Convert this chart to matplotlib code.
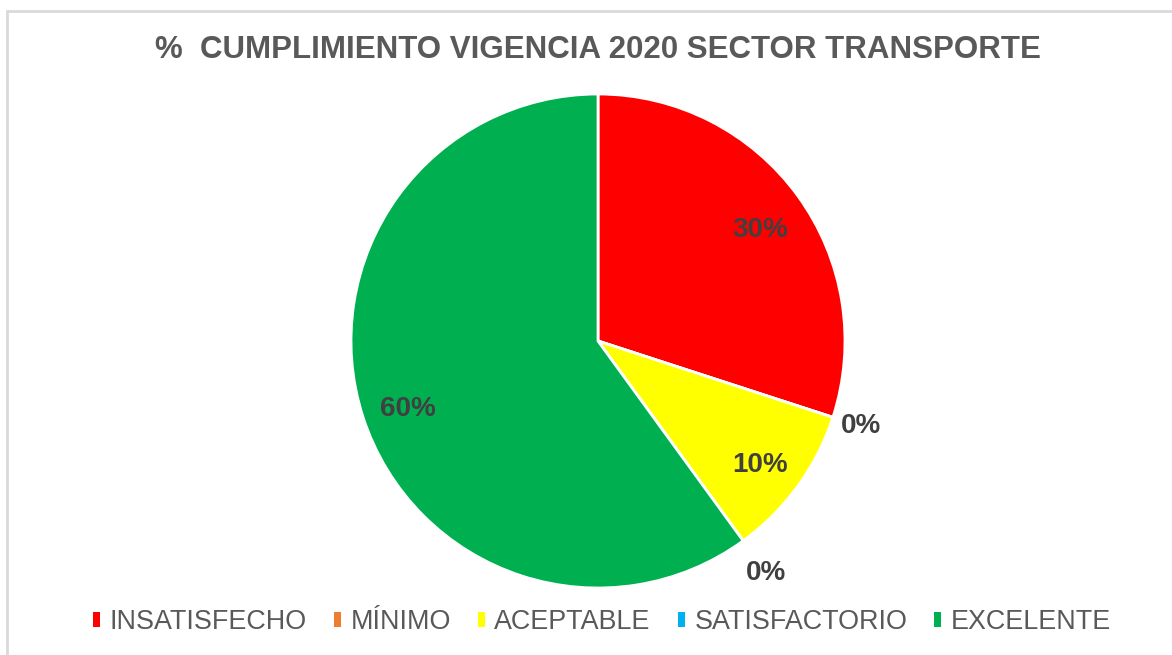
import numpy as np
import matplotlib.pyplot as plt
from matplotlib.patches import Rectangle

# data
categorias = ['INSATISFECHO', 'MÍNIMO', 'ACEPTABLE', 'SATISFACTORIO', 'EXCELENTE']
valores = [30, 0, 10, 0, 60]
colores = ['#FF0000', '#ED7D31', '#FFFF00', '#00B0F0', '#00B050']
titulo = '%  CUMPLIMIENTO VIGENCIA 2020 SECTOR TRANSPORTE'

W, H = 1172, 655
fig = plt.figure(figsize=(W / 100, H / 100), dpi=100)
fig.patch.set_facecolor('white')

# faint frame of the chart area
fig.add_artist(Rectangle((7 / W, -0.1), 1.2, 1.1 - 11 / H, transform=fig.transFigure,
                         fill=False, edgecolor='#D9D9D9', lw=2))

# pie axes: centre (598, 341), radius 247 px
cx, cy, r = 598, 341, 247
side = 2 * r + 40
ax = fig.add_axes([(cx - side / 2) / W, 1 - (cy + side / 2) / H, side / W, side / H])

wedges, _ = ax.pie(valores, colors=colores, startangle=90, counterclock=False,
                   radius=1, wedgeprops=dict(edgecolor='white', linewidth=2))
ax.set_xlim(-side / 2 / r, side / 2 / r)
ax.set_ylim(-side / 2 / r, side / 2 / r)
ax.set_aspect('equal')
ax.axis('off')

# percentage labels
total = sum(valores)
ang = 90.0
for v in valores:
    mid = ang - 360 * v / total / 2
    ang -= 360 * v / total
    dist = 0.81 if v > 0 else (1.12 if mid > -30 else 1.16)
    x, y = dist * np.cos(np.radians(mid)), dist * np.sin(np.radians(mid))
    if v > 0:
        y -= 0.025
    ax.text(x, y, f'{v}%', ha='center', va='center', fontsize=20,
            fontweight='bold', color='#404040', family='Liberation Sans')

fig.text(598 / W, 1 - 50 / H, titulo, ha='center', va='center', fontsize=22.5,
         fontweight='bold', color='#595959', family='Liberation Sans')

leg = fig.legend(wedges, categorias, loc='center', bbox_to_anchor=(602 / W, 1 - 622 / H),
                 ncol=5, frameon=False, handlelength=0.27, handleheight=0.45,
                 handletextpad=0.35, columnspacing=1.0,
                 prop=dict(family='Liberation Sans', size=19.4))
for t in leg.get_texts():
    t.set_color('#595959')
for h in leg.legend_handles:
    h.set_edgecolor('none')

fig.savefig('out.png', dpi=100, facecolor='white')
